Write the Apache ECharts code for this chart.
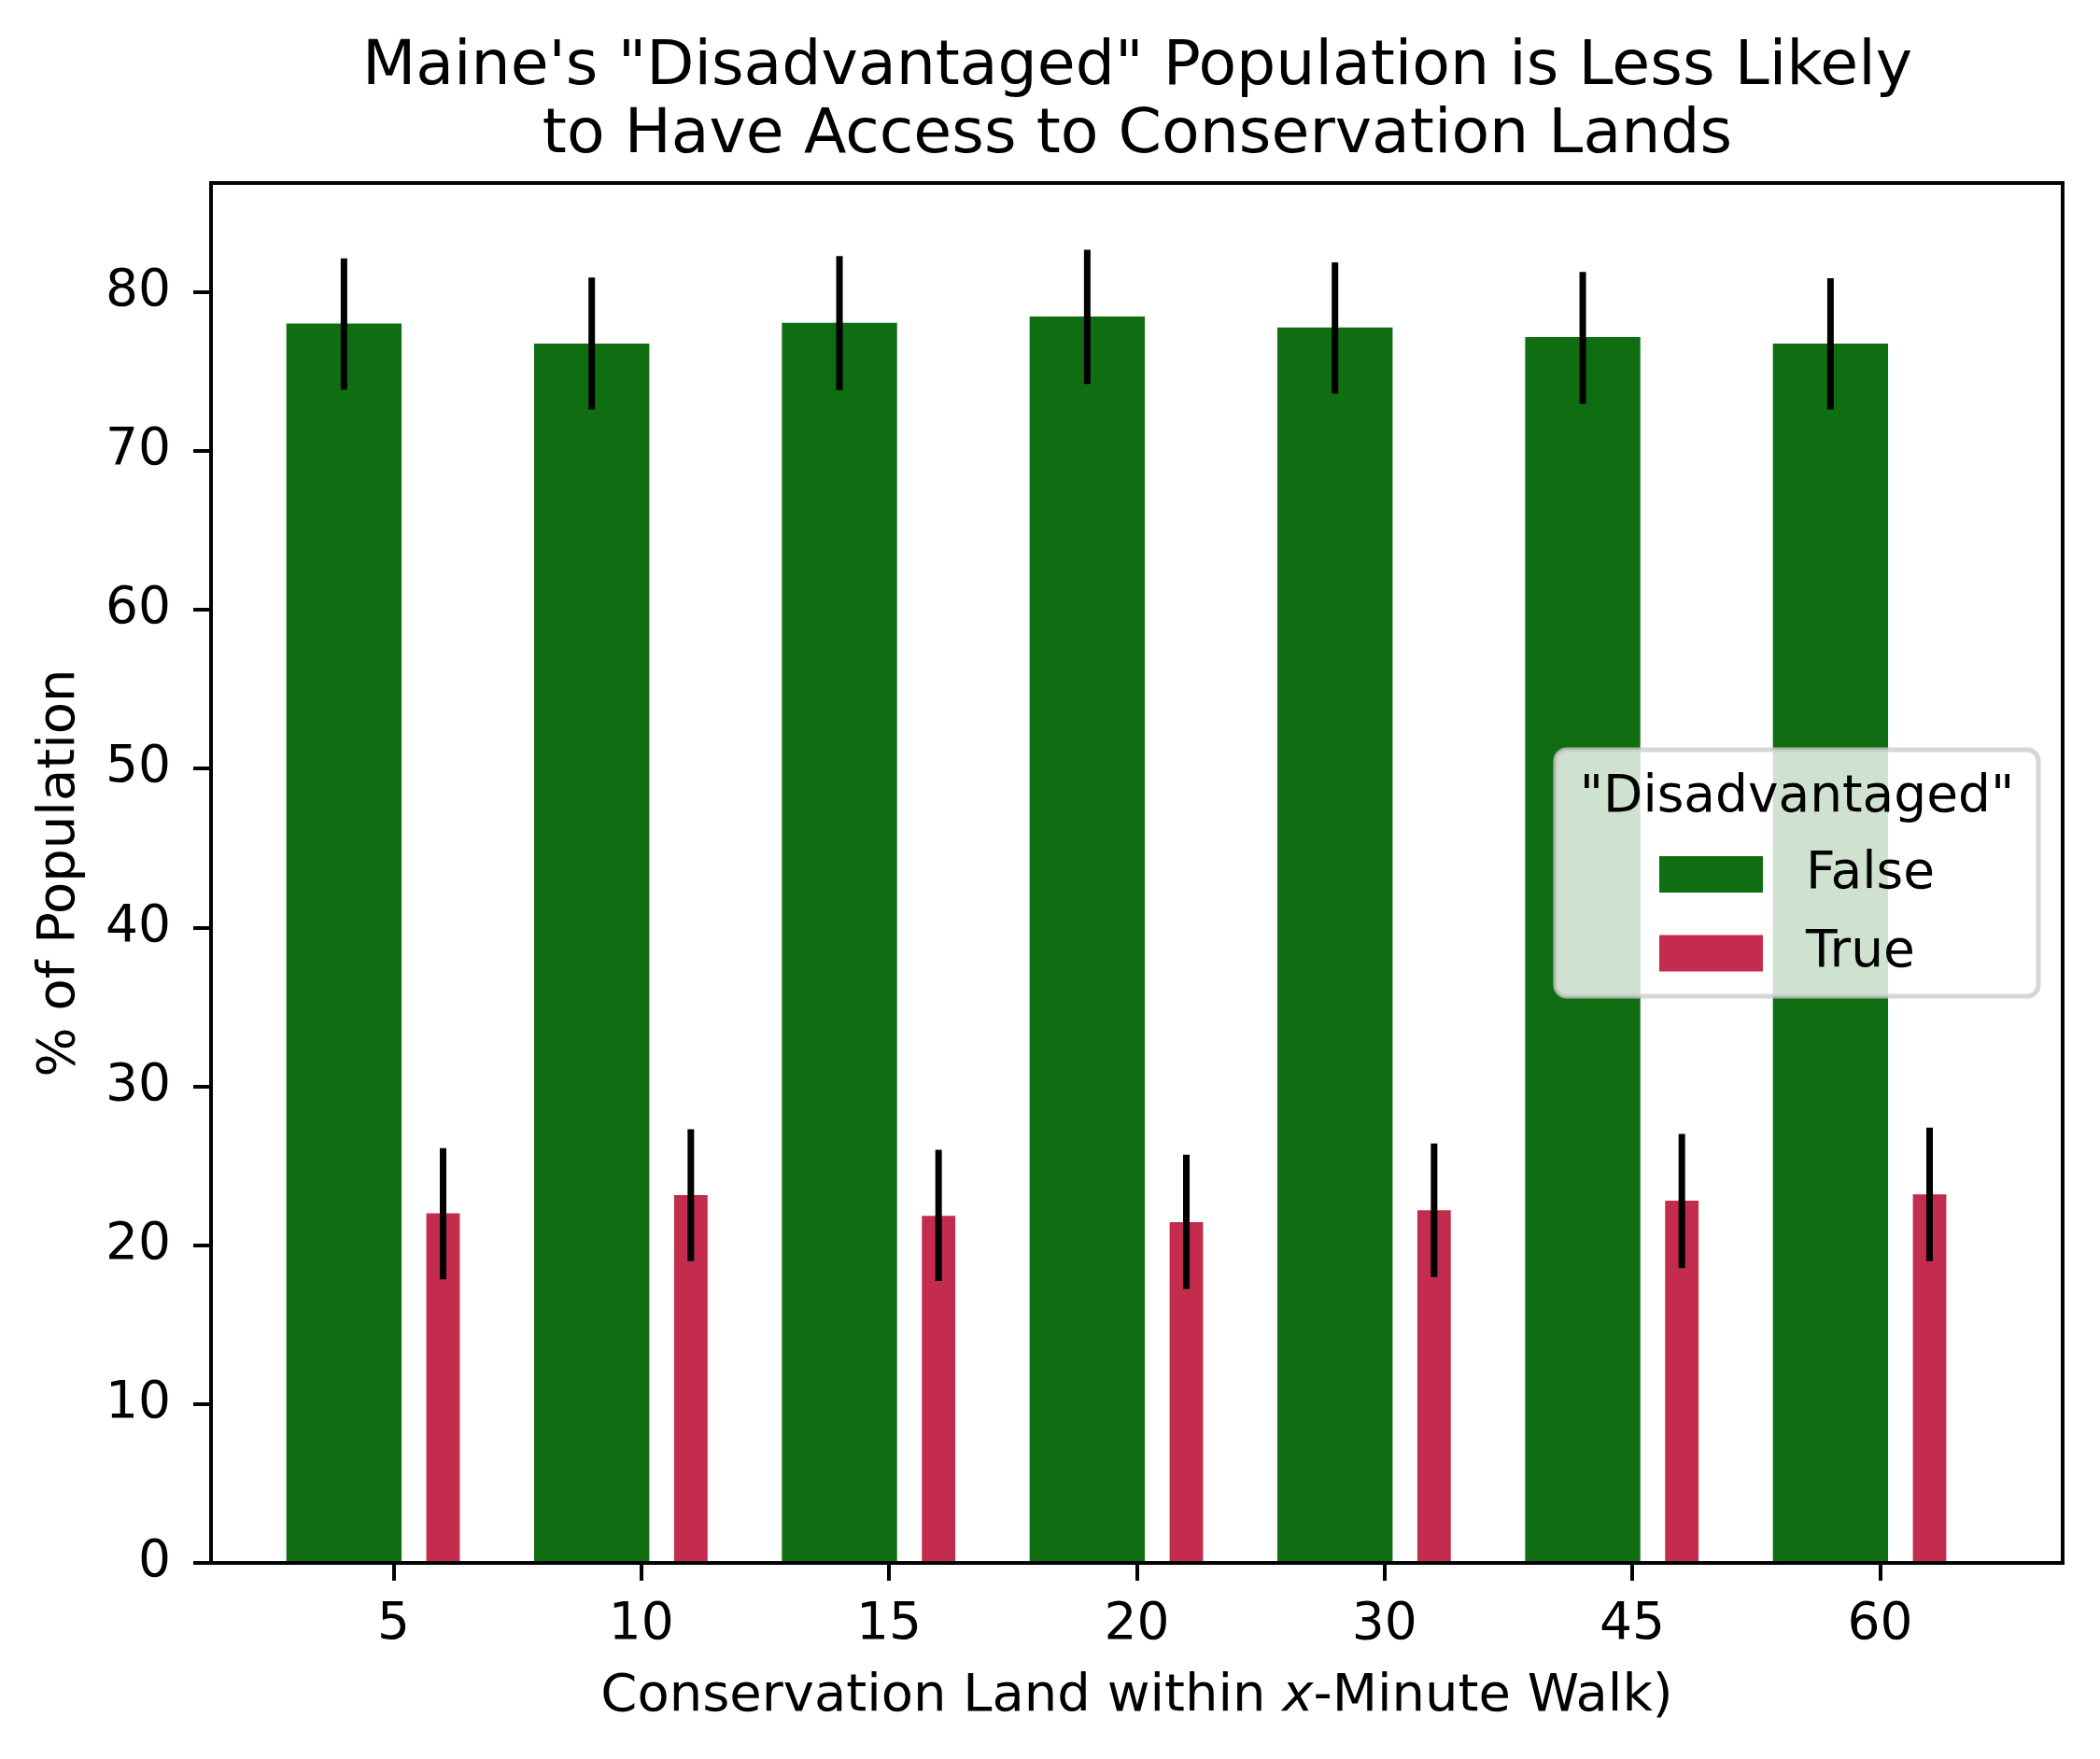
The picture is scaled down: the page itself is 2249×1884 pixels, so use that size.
<!DOCTYPE html>
<html><head><meta charset="utf-8">
<script src="https://cdn.jsdelivr.net/npm/echarts@6/dist/echarts.min.js"></script>
<style>html,body{margin:0;padding:0;background:#fff}#c{width:2249px;height:1884px}</style>
</head><body><div id="c"></div>
<script>
// ---- data ----
const categories = ['5', '10', '15', '20', '30', '45', '60'];
const falseValues = [78.0, 76.75, 78.05, 78.45, 77.75, 77.15, 76.75];
const falseLow    = [73.85, 72.6, 73.8, 74.2, 73.6, 72.95, 72.6];
const falseHigh   = [82.1, 80.9, 82.25, 82.65, 81.85, 81.25, 80.85];
const trueValues  = [22.0, 23.15, 21.85, 21.45, 22.2, 22.8, 23.2];
const trueLow     = [17.85, 19.0, 17.75, 17.25, 18.0, 18.55, 19.0];
const trueHigh    = [26.1, 27.3, 26.0, 25.7, 26.4, 27.0, 27.4];
const yTicks = [0, 10, 20, 30, 40, 50, 60, 70, 80];
const seriesNames = ['False', 'True'];
const legendTitle = '"Disadvantaged"';
const titleText = 'Maine\'s "Disadvantaged" Population is Less Likely\nto Have Access to Conservation Lands';

// ---- styles ----
const FONT = 'DejaVu Sans';
const GREEN = '#106e12';
const RED = '#c32c4c';

function makeRender(offset, width, color) {
  return function (params, api) {
    const i = api.value(0), v = api.value(1);
    const x = i + offset;
    const p0 = api.coord([x - width / 2, v]);
    const p1 = api.coord([x + width / 2, 0]);
    const eTop = api.coord([x, api.value(3)]);
    const eBot = api.coord([x, api.value(2)]);
    return {
      type: 'group',
      children: [
        { type: 'rect', shape: { x: p0[0], y: p0[1], width: p1[0] - p0[0], height: p1[1] - p0[1] }, style: { fill: color } },
        { type: 'line', shape: { x1: eTop[0], y1: eTop[1], x2: eBot[0], y2: eBot[1] }, style: { stroke: '#000', lineWidth: 7 } }
      ]
    };
  };
}
function rows(vals, lo, hi) { return categories.map((c, i) => [i, vals[i], lo[i], hi[i]]); }

const chart = echarts.init(document.getElementById('c'), null, { renderer: 'canvas' });
const tickIdx = categories.map((c, i) => i);
chart.setOption({
  animation: false,
  backgroundColor: '#fff',
  title: {
    text: titleText, left: 1213, top: 31, textAlign: 'center',
    textStyle: { fontFamily: FONT, fontSize: 66.5, fontWeight: 'normal', color: '#000', lineHeight: 73 }
  },
  grid: { left: 226, right: 40, top: 196, bottom: 210, show: true, borderColor: '#000', borderWidth: 4, z: 5 },
  xAxis: {
    type: 'value', min: -0.7366, max: 6.737,
    axisLine: { show: false, onZero: false }, splitLine: { show: false },
    axisTick: { show: true, customValues: tickIdx, length: 19, lineStyle: { color: '#000', width: 4 } },
    axisLabel: { customValues: tickIdx, formatter: v => categories[Math.round(v)], fontFamily: FONT, fontSize: 55, color: '#000', margin: 39 },
    name: '{a|Conservation Land within }{i|x}{a|-Minute Walk)}',
    nameLocation: 'middle', nameGap: 115,
    nameTextStyle: { rich: { a: { fontFamily: FONT, fontSize: 56, color: '#000' }, i: { fontFamily: FONT, fontStyle: 'italic', fontSize: 56, color: '#000' } } }
  },
  yAxis: {
    type: 'value', min: 0, max: 86.85,
    axisLine: { show: false, onZero: false }, splitLine: { show: false },
    axisTick: { show: true, customValues: yTicks, length: 19, lineStyle: { color: '#000', width: 4 } },
    axisLabel: { customValues: yTicks, fontFamily: FONT, fontSize: 55, color: '#000', margin: 43, padding: [13, 0, 0, 0] },
    name: '% of Population', nameLocation: 'middle', nameGap: 134,
    nameTextStyle: { fontFamily: FONT, fontSize: 56, color: '#000' }
  },
  legend: {
    data: seriesNames, orient: 'vertical', left: 1777, top: 909, padding: 0,
    icon: 'rect', itemWidth: 111, itemHeight: 39, itemGap: 29.5, z: 20,
    textStyle: { fontFamily: FONT, fontSize: 55, color: '#000', lineHeight: 39, padding: [0, 0, 0, 41] }
  },
  graphic: [
    { type: 'rect', z: 15, shape: { x: 1666, y: 803, width: 517, height: 264, r: 12 },
      style: { fill: 'rgba(255,255,255,0.8)', stroke: 'rgba(204,204,204,0.8)', lineWidth: 5 } },
    { type: 'text', z: 16, x: 1924.5, y: 855,
      style: { text: legendTitle, fontFamily: FONT, fontSize: 55, fill: '#000', textAlign: 'center', textVerticalAlign: 'middle' } }
  ],
  series: [
    { name: seriesNames[0], type: 'custom', itemStyle: { color: GREEN }, renderItem: makeRender(-0.2, 0.465, GREEN),
      encode: { x: 0, y: 1 }, data: rows(falseValues, falseLow, falseHigh), z: 2 },
    { name: seriesNames[1], type: 'custom', itemStyle: { color: RED }, renderItem: makeRender(0.2, 0.135, RED),
      encode: { x: 0, y: 1 }, data: rows(trueValues, trueLow, trueHigh), z: 2 }
  ]
});
</script></body></html>
